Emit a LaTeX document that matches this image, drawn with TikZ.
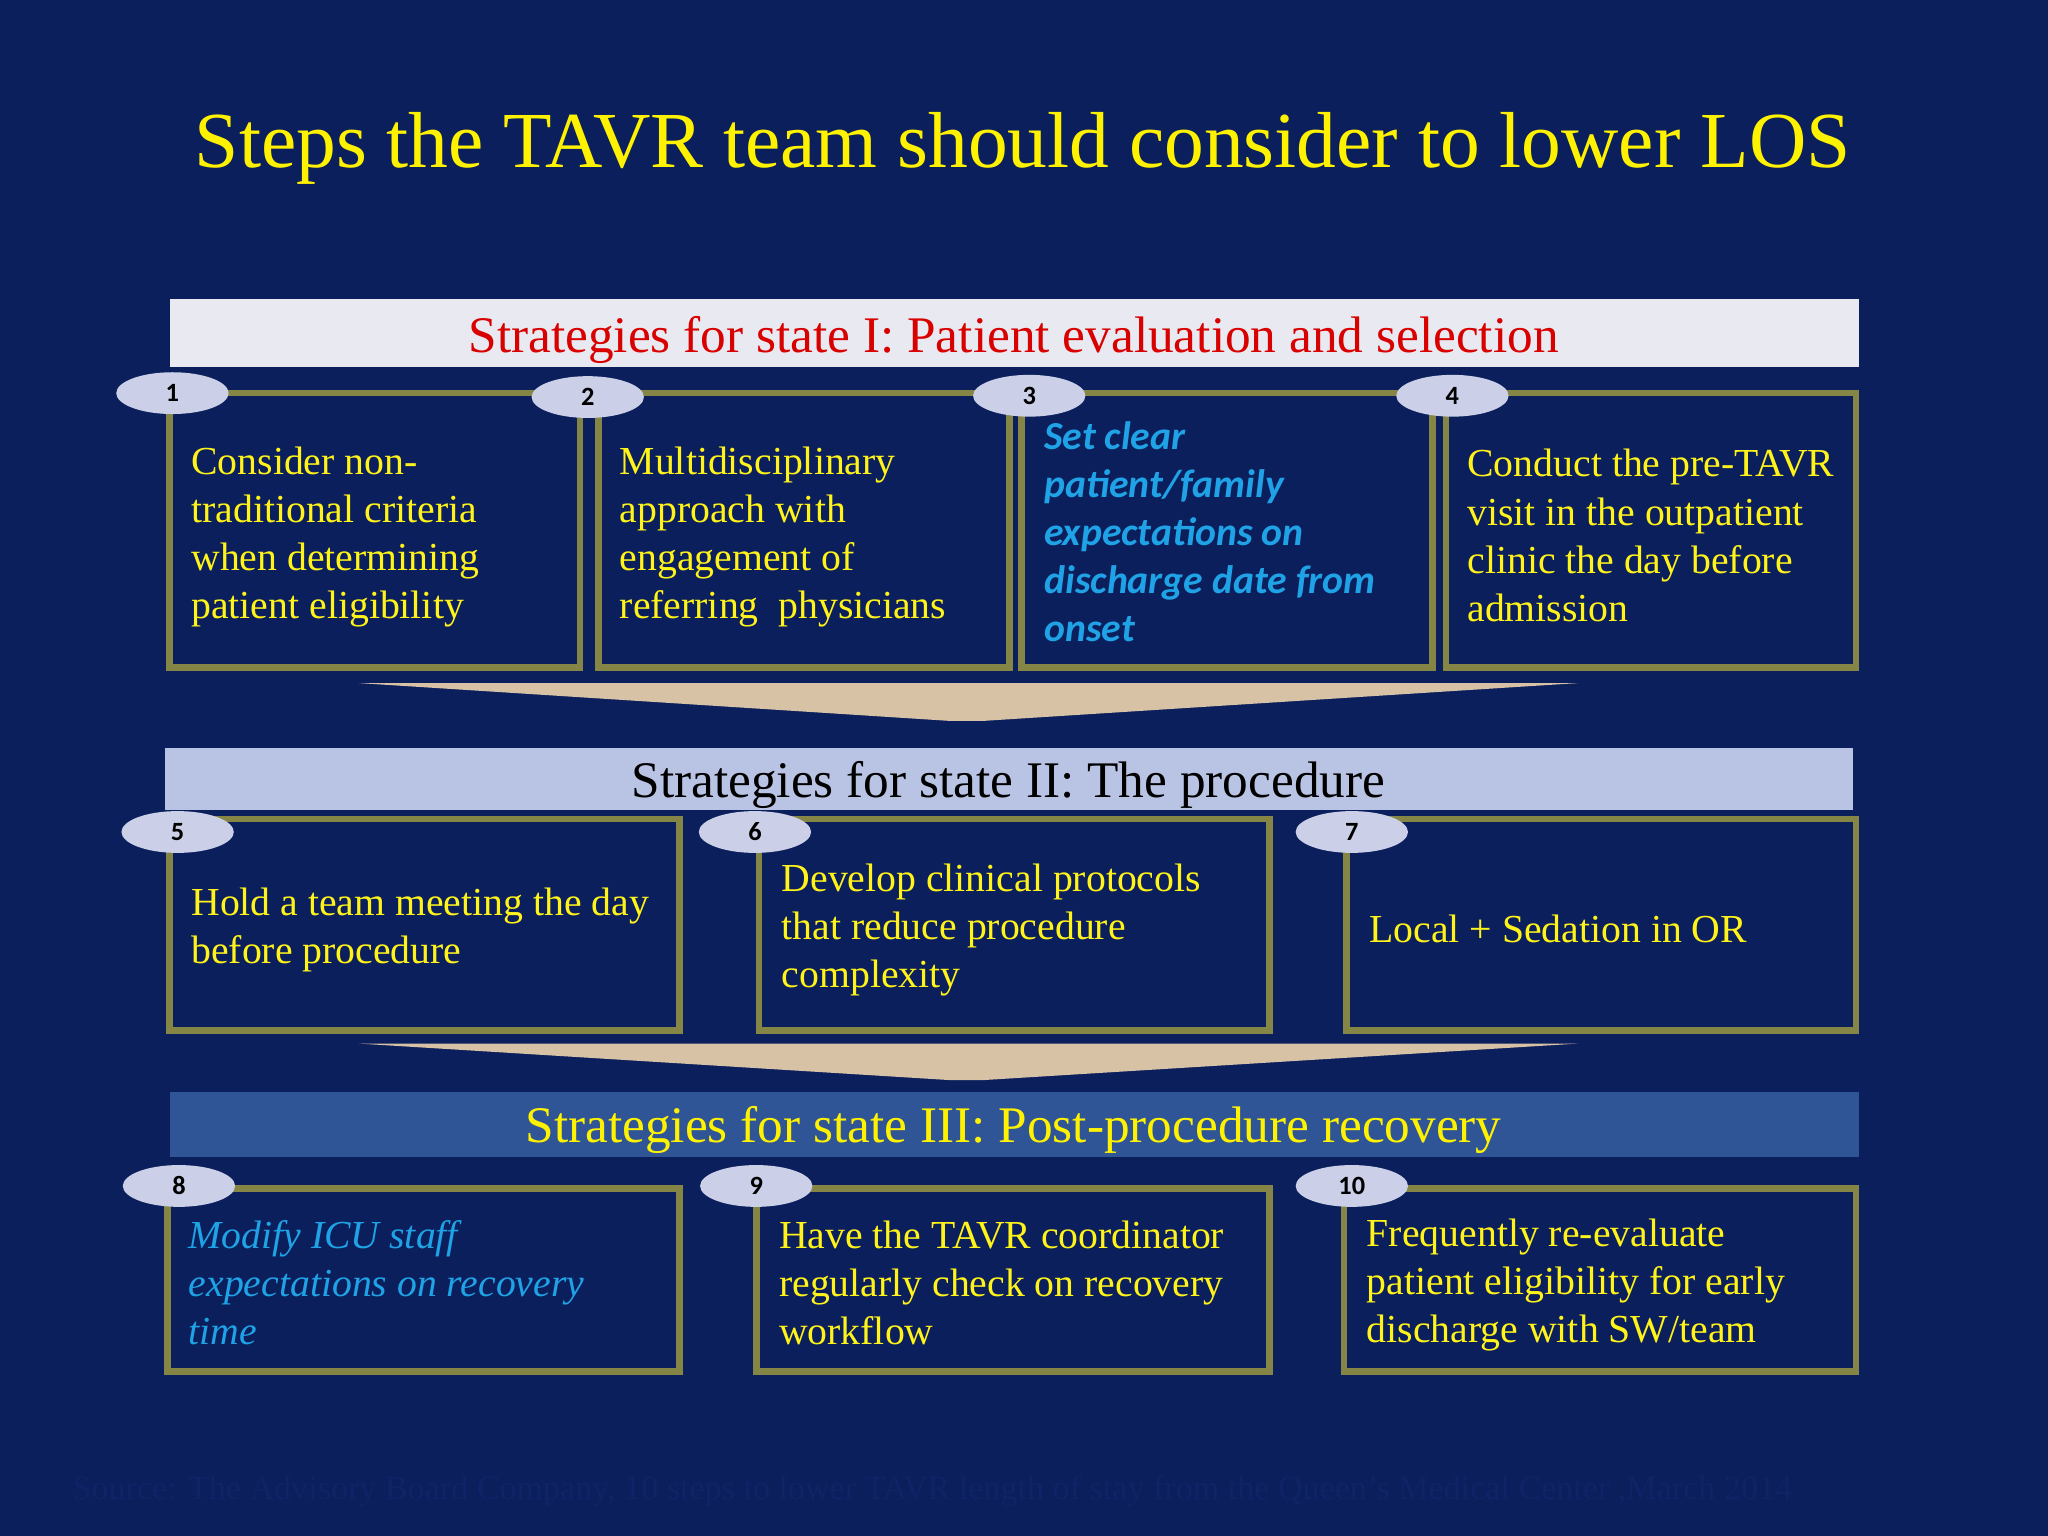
\documentclass[tikz,border=0pt]{standalone}
\usepackage{fontspec}
\setmainfont{Liberation Serif}
\newfontfamily\carl{Carlito}
\usetikzlibrary{shapes.geometric}
\definecolor{bg}{HTML}{0B1F5C}
\definecolor{olive}{HTML}{858545}
\definecolor{ban1}{HTML}{E8E9F1}
\definecolor{ban2}{HTML}{B9C3E4}
\definecolor{ban3}{HTML}{2F5597}
\definecolor{badge}{HTML}{CBD0E8}
\definecolor{tan}{HTML}{D8C2A6}
\definecolor{cyanb}{HTML}{1FA3E6}
\definecolor{src}{HTML}{0F2466}
\tikzset{
 box/.style={draw=olive,line width=1.9pt},
 badge/.style={ellipse,fill=badge,minimum width=86\pxu,minimum height=32\pxu,inner sep=0pt,font=\carl\bfseries\fontsize{7.5}{9}\selectfont,text=black},
 txt/.style={anchor=west,align=left,text=yellow!90!white,inner sep=0pt,font=\fontsize{11.3}{13.7}\selectfont},
 ital/.style={anchor=west,align=left,text=cyanb,inner sep=0pt},
 banner/.style={inner sep=0pt,font=\fontsize{14.6}{16}\selectfont},
}
\newlength{\pxu}\setlength{\pxu}{0.013061cm}
\begin{document}
\begin{tikzpicture}[x=0.013061cm,y=-0.013061cm]
\fill[bg] (0,0) rectangle (1568,1176);
\useasboundingbox (0,0) rectangle (1568,1176);
\node[text=yellow,font=\fontsize{22.6}{25}\selectfont] (title) at (783,114) {Steps the TAVR team should consider to lower LOS};
% banner 1
\fill[ban1] (130,229) rectangle (1423,281);
\node[banner,text=red!85!black] (b1) at (776,260) {Strategies for state I: Patient evaluation and selection};
\draw[box] (130,301) rectangle (444,511);
\draw[box] (458,301) rectangle (773,511);
\draw[box] (782,301) rectangle (1097,511);
\draw[box] (1107,301) rectangle (1421,511);
\node[txt] (t1) at (146,411) {Consider non-\\traditional criteria\\when determining\\patient eligibility};
\node[txt] (t2) at (474,411) {Multidisciplinary\\approach with\\engagement of\\referring\ \ physicians};
\node[ital,font=\carl\bfseries\itshape\fontsize{11.3}{13.7}\selectfont] (t3) at (799,407) {Set clear\\patient/family\\expectations on\\discharge date from\\onset};
\node[txt] (t4) at (1123,410) {Conduct the pre-TAVR\\visit in the outpatient\\clinic the day before\\admission};
\node[badge] (n1) at (132,301) {1};
\node[badge] (n2) at (450,304) {2};
\node[badge] (n3) at (788,303) {3};
\node[badge] (n4) at (1112,303) {4};
% arrow 1
\fill[tan] (275,523) -- (1208,523) -- (752,552) -- (728,552) -- cycle;
% banner 2
\fill[ban2] (126,573) rectangle (1419,620);
\node[banner,text=black] (b2) at (772,601) {Strategies for state II: The procedure};
\draw[box] (130,627) rectangle (520,789);
\draw[box] (581,627) rectangle (972,789);
\draw[box] (1031,627) rectangle (1421,789);
\node[txt] (t5) at (146,712) {Hold a team meeting the day\\before procedure};
\node[txt] (t6) at (598,712) {Develop clinical protocols\\that reduce procedure\\complexity};
\node[txt] (t7) at (1048,711) {Local + Sedation in OR};
\node[badge] (n5) at (136,637) {5};
\node[badge] (n6) at (578,637) {6};
\node[badge] (n7) at (1035,637) {7};
% arrow 2
\fill[tan] (275,799) -- (1208,799) -- (752,827) -- (728,827) -- cycle;
% banner 3
\fill[ban3] (130,836) rectangle (1423,886);
\node[banner,text=yellow] (b3) at (776,865) {Strategies for state III: Post-procedure recovery};
\draw[box] (128,910) rectangle (520,1050);
\draw[box] (579,910) rectangle (972,1050);
\draw[box] (1029,910) rectangle (1421,1050);
\node[ital,font=\itshape\fontsize{11.3}{13.7}\selectfont] (t8) at (144,982) {Modify ICU staff\\expectations on recovery\\time};
\node[txt] (t9) at (596,982) {Have the TAVR coordinator\\regularly check on recovery\\workflow};
\node[txt] (t10) at (1046,984) {Frequently re-evaluate\\patient eligibility for early\\discharge with SW/team};
\node[badge] (n8) at (137,908) {8};
\node[badge] (n9) at (579,908) {9};
\node[badge] (n10) at (1035,908) {10};
\node[anchor=west,inner sep=0pt,text=src,font=\fontsize{9.7}{11}\selectfont] (source) at (55,1142) {Source: The Advisory Board Company, 10 steps to lower TAVR length of stay from the Queen's Medical Center ,March 2014};
\end{tikzpicture}
\end{document}
